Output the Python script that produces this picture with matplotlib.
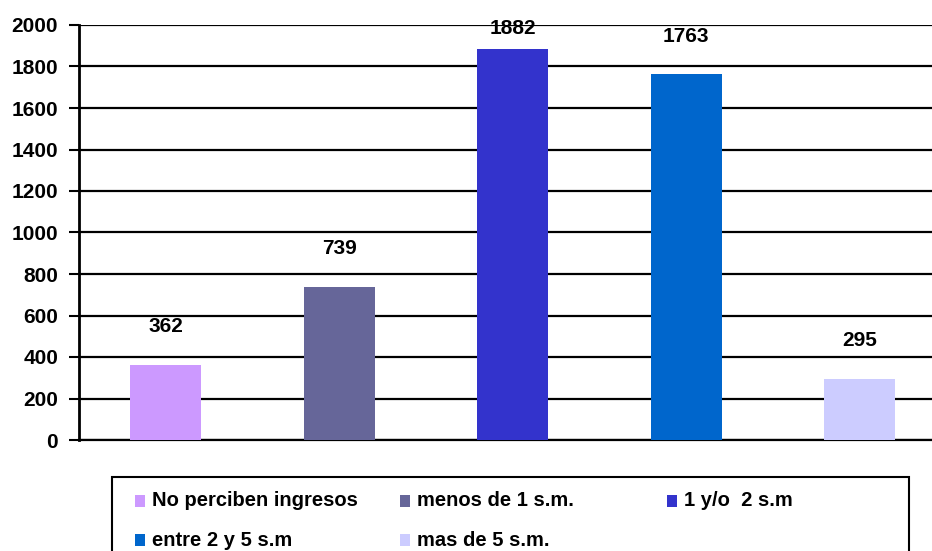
import matplotlib.pyplot as plt
from matplotlib.patches import Rectangle
import numpy as np

plt.rcParams['font.family'] = ['Liberation Sans', 'DejaVu Sans']

categories = ["No perciben ingresos", "menos de 1 s.m.", "1 y/o  2 s.m",
              "entre 2 y 5 s.m", "mas de 5 s.m."]
values = [362, 739, 1882, 1763, 295]
colors = ["#CC99FF", "#666699", "#3333CC", "#0066CC", "#CCCCFF"]
yticks = np.arange(0, 2001, 200)

W, H = 932, 551
fig = plt.figure(figsize=(W / 100, H / 100), dpi=100)
# plot area runs off the right edge like the original
ax = fig.add_axes([79 / W, (H - 440) / H, 867.5 / W, 415 / H])

x = np.arange(len(values))
ax.bar(x, values, width=0.41, color=colors, zorder=3)

ax.set_xlim(-0.5, 4.5)
ax.set_ylim(0, 2000)
ax.set_yticks(yticks)
ax.set_yticklabels([str(t) for t in yticks], fontsize=15, fontweight='bold')
ax.set_xticks([])
ax.grid(axis='y', color='black', linewidth=1.6, zorder=1)
ax.tick_params(axis='y', direction='out', length=7, width=1.5, color='black', pad=8)

for s in ['top', 'right']:
    ax.spines[s].set_visible(False)
ax.spines['left'].set_linewidth(2)
ax.spines['bottom'].set_linewidth(1.6)

# value labels above bars, kept inside the plot
for xi, v in zip(x, values):
    ax.text(xi, min(v + 183, 1983), str(v), ha='center', va='center',
            fontsize=15, fontweight='bold', zorder=4)

# legend as a fixed-width table: 3 columns, filled row by row
col_x = [135, 400, 667]
row_y = [501, 540]
for i, (lab, c) in enumerate(zip(categories, colors)):
    px = col_x[i % 3]
    py = row_y[i // 3]
    fig.patches.append(Rectangle((px / W, (H - py - 6) / H), 10 / W, 12 / H,
                                 transform=fig.transFigure, facecolor=c,
                                 edgecolor='none'))
    fig.text((px + 17) / W, (H - py) / H, lab, ha='left', va='center',
             fontsize=14.5, fontweight='bold')

# legend box, runs off the bottom edge
fig.patches.append(Rectangle((112 / W, -0.02), (909 - 112) / W, (H - 477) / H + 0.02,
                             transform=fig.transFigure, fill=False,
                             edgecolor='black', linewidth=1.5))

fig.savefig("out.png", dpi=100)
